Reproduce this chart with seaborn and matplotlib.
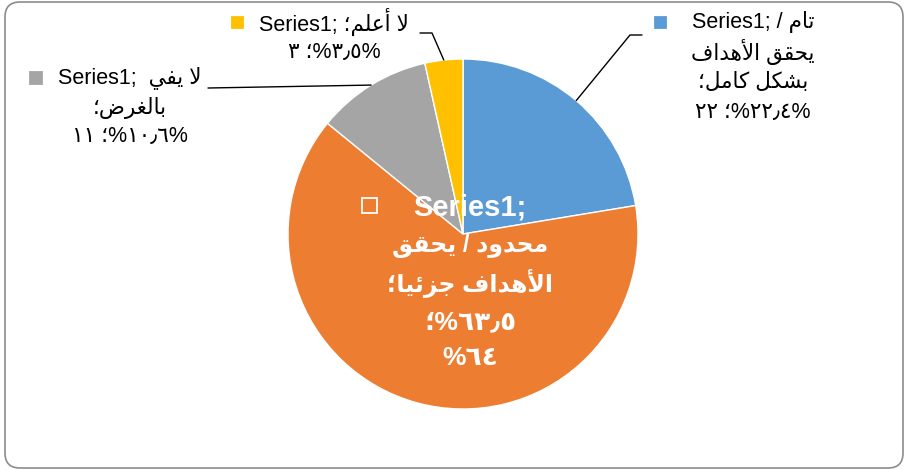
import numpy as np
import matplotlib
matplotlib.use("Agg")
import matplotlib.pyplot as plt
from matplotlib.patches import Rectangle, FancyBboxPatch
import seaborn as sns

# data
categories = ["تام / يحقق الأهداف بشكل كامل", "محدود / يحقق الأهداف جزئيا", "لا يفي بالغرض", "لا أعلم"]
values = [22.4, 63.5, 10.6, 3.5]
colors = ["#5B9BD5", "#ED7D31", "#A5A5A5", "#FFC000"]
series = "Series1;"

sns.set_style("white")
plt.rcParams['font.family'] = ['Liberation Sans', 'DejaVu Sans']

# tiny arabic shaper: presentation forms + visual (reversed) order
FORMS = {
    'ء': (0xFE80, 1), 'آ': (0xFE81, 2), 'أ': (0xFE83, 2), 'ؤ': (0xFE85, 2), 'إ': (0xFE87, 2),
    'ئ': (0xFE89, 4), 'ا': (0xFE8D, 2), 'ب': (0xFE8F, 4), 'ة': (0xFE93, 2), 'ت': (0xFE95, 4),
    'ث': (0xFE99, 4), 'ج': (0xFE9D, 4), 'ح': (0xFEA1, 4), 'خ': (0xFEA5, 4), 'د': (0xFEA9, 2),
    'ذ': (0xFEAB, 2), 'ر': (0xFEAD, 2), 'ز': (0xFEAF, 2), 'س': (0xFEB1, 4), 'ش': (0xFEB5, 4),
    'ص': (0xFEB9, 4), 'ض': (0xFEBD, 4), 'ط': (0xFEC1, 4), 'ظ': (0xFEC5, 4), 'ع': (0xFEC9, 4),
    'غ': (0xFECD, 4), 'ف': (0xFED1, 4), 'ق': (0xFED5, 4), 'ك': (0xFED9, 4), 'ل': (0xFEDD, 4),
    'م': (0xFEE1, 4), 'ن': (0xFEE5, 4), 'ه': (0xFEE9, 4), 'و': (0xFEED, 2), 'ى': (0xFEEF, 2),
    'ي': (0xFEF1, 4),
}
LAM_ALEF = {'آ': 0xFEF5, 'أ': 0xFEF7, 'إ': 0xFEF9, 'ا': 0xFEFB}


def shape(s):
    toks = []
    i = 0
    while i < len(s):
        if s[i] == 'ل' and i + 1 < len(s) and s[i + 1] in LAM_ALEF:
            toks.append(('LA', LAM_ALEF[s[i + 1]]))
            i += 2
        else:
            toks.append((s[i], None))
            i += 1

    def fwd(t):
        return t is not None and t[0] in FORMS and FORMS[t[0]][1] == 4

    def arabic(t):
        return t is not None and (t[0] == 'LA' or t[0] in FORMS)

    out = []
    for k, t in enumerate(toks):
        prev = toks[k - 1] if k > 0 else None
        nxt = toks[k + 1] if k + 1 < len(toks) else None
        p = fwd(prev)
        if t[0] == 'LA':
            out.append(chr(t[1] + (1 if p else 0)))
            continue
        if t[0] not in FORMS:
            out.append(t[0])
            continue
        base, n = FORMS[t[0]]
        if n == 1:
            off = 0
        elif n == 2:
            off = 1 if p else 0
        else:
            nx = arabic(nxt)
            off = 3 if (p and nx) else 1 if p else 2 if nx else 0
        out.append(chr(base + off))
    return ''.join(out)[::-1]


fig = plt.figure(figsize=(9.06, 4.69), dpi=100)
ax = fig.add_axes([0, 0, 1, 1])
H = 469
cx, cy, r = 463, H - 234, 175

wedges, _ = ax.pie(values, colors=colors, startangle=90, counterclock=False,
                   center=(cx, cy), radius=r,
                   wedgeprops=dict(edgecolor='white', linewidth=1))
ax.set_xlim(0, 906)
ax.set_ylim(0, H)
ax.set_aspect('equal')
ax.set_axis_off()

# chart border
ax.add_patch(FancyBboxPatch((5, 1), 898, 466, boxstyle="round,pad=0,rounding_size=15",
                            facecolor='none', edgecolor='#8c8c8c', linewidth=1.2))


def edge(w):
    a = np.deg2rad((w.theta1 + w.theta2) / 2)
    return cx + r * np.cos(a), cy + r * np.sin(a)


def label(lines, x, ys, sizes, **kw):
    for s, y, fs in zip(lines, ys, sizes):
        ax.text(x, H - y, s, ha='center', va='center', fontsize=fs, **kw)


def key(x, y, size, color, fill=True):
    ax.add_patch(Rectangle((x, H - y - size), size, size,
                           facecolor=color if fill else 'none',
                           edgecolor=color, linewidth=1.3))


fs = 15.5
# blue
key(655, 17, 11, colors[0])
label([series + " / " + shape("تام"), shape("يحقق الأهداف"), shape("بشكل كامل؛"),
       "٢٢ ؛%٢٢٫٤%"], 753, [22, 52, 82, 112], [fs] * 4, color='black')
ex, ey = edge(wedges[0])
ax.plot([642, 630, ex], [H - 35, H - 35, ey], color='black', lw=1)

# gray
key(30, 72, 12, colors[2])
label([series + "  " + shape("لا يفي"), shape("بالغرض؛"), "١١ ؛%١٠٫٦%"],
      130, [78, 108, 136], [fs] * 3, color='black')
ex, ey = edge(wedges[2])
ax.plot([208, ex], [H - 88, ey], color='black', lw=1)

# yellow
key(232, 17, 11, colors[3])
label([series + " " + shape("لا أعلم؛"), "٣ ؛%٣٫٥%"], 334, [22, 52], [fs] * 2,
      color='black')
ex, ey = edge(wedges[3])
ax.plot([420, 432, ex], [H - 33, H - 33, ey], color='black', lw=1)

# orange (inside)
key(362, 198, 15, 'white', fill=False)
label([series, shape("محدود / يحقق"), shape("الأهداف جزئيا؛"), "؛%٦٣٫٥", "%٦٤"],
      470, [207, 246, 284, 322, 358], [21, 17, 17, 19, 19],
      color='white', fontweight='bold')

fig.savefig("out.png", dpi=100)
